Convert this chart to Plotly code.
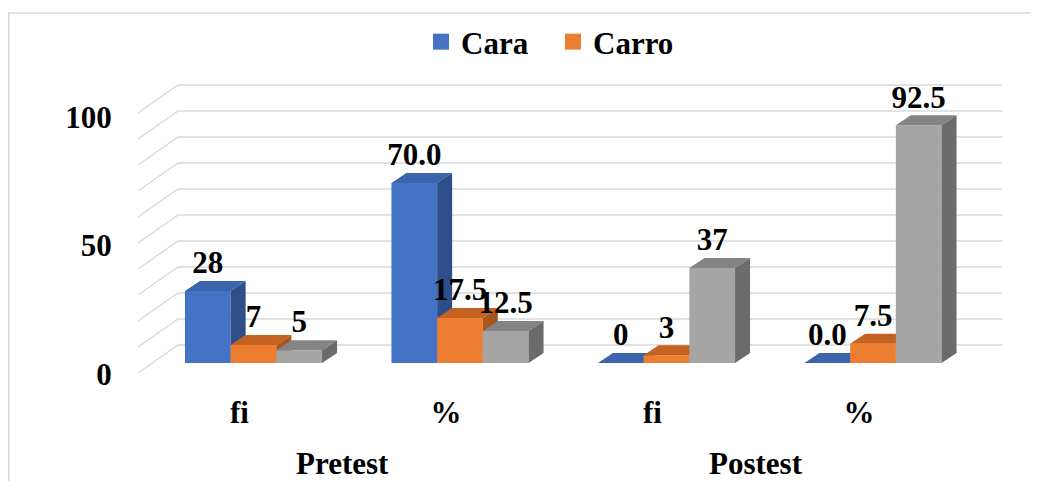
import plotly.graph_objects as go

# ---------------- data ----------------
categories = ["fi", "%", "fi", "%"]
groups = ["Pretest", "Postest"]
series_names = ["Cara", "Carro", "Serie 3"]
cara = [28, 70.0, 0, 0.0]
carro = [7, 17.5, 3, 7.5]
serie3 = [5, 12.5, 37, 92.5]
y_ticks = [0, 50, 100]
grid_vals = [0, 10, 20, 30, 40, 50, 60, 70, 80, 90, 100]

series_values = [cara, carro, serie3]
front_colors = ["#4472C4", "#ED7D31", "#A5A5A5"]
top_colors = ["#3B64AD", "#C3631F", "#848484"]
side_colors = ["#2D4E89", "#A9561A", "#6B6B6B"]
show_in_legend = [True, True, False]

# ---------------- layout geometry (page pixels) ----------------
OFF = 8                                   # default body margin of the page
W, H = 1039 - OFF, 481 - OFF              # figure size
L, R, T, B = 138, 1010, 60, 381           # plot area (page px)
CAT0, CATW = 253.5, 206.5                 # first group centre, group spacing
LAB0 = 239.5                              # first category label centre
BARW, DX, DY = 45.7, 15.0, 10.0           # bar width, depth offsets
S = 2.57                                  # px per unit (bars)
GS = 2.6                                  # px per unit (walls)
BASE = 363.0                              # bar baseline px
FRONT0, BACK0 = 373.0, 345.0              # wall zero lines (front / back)
TICK0 = 374.0                             # y tick label zero px
FONT = "Liberation Serif"
FS = 31


def fnt(size=FS):
    return dict(family=FONT, size=size, color="black", weight="bold")


def xd(px):
    return (px - CAT0) / CATW


bw = BARW / CATW
ddx = DX / CATW
ddy = DY / S
pw, ph = R - L, B - T

fig = go.Figure()

# ---- walls / gridlines ----
gx, gy = [], []
for g in grid_vals:
    yf = (BASE - (FRONT0 - GS * g)) / S     # front edge of side wall
    yb = (BASE - (BACK0 - GS * g)) / S      # back wall
    gx += [xd(138), xd(178), xd(1002), None]
    gy += [yf, yb, yb, None]
fig.add_trace(go.Scatter(x=gx, y=gy, mode="lines",
                         line=dict(color="#D9D9D9", width=1.4),
                         hoverinfo="skip", showlegend=False))

# ---- 3D bars (painter's order left -> right) ----
nser = len(series_values)
lab_x, lab_y, lab_t = [], [], []
for i, cat in enumerate(categories):
    for j in range(nser):
        v = series_values[j][i]
        xl = i + (j - nser / 2) * bw
        xr = xl + bw
        # front
        fig.add_trace(go.Scatter(x=[xl, xr, xr, xl, xl], y=[0, 0, v, v, 0],
                                 mode="lines", fill="toself",
                                 fillcolor=front_colors[j],
                                 line=dict(width=0, color=front_colors[j]),
                                 hoverinfo="skip", showlegend=False))
        # top
        fig.add_trace(go.Scatter(x=[xl, xr, xr + ddx, xl + ddx, xl],
                                 y=[v, v, v + ddy, v + ddy, v],
                                 mode="lines", fill="toself",
                                 fillcolor=top_colors[j],
                                 line=dict(width=0, color=top_colors[j]),
                                 hoverinfo="skip", showlegend=False))
        # side
        fig.add_trace(go.Scatter(x=[xr, xr + ddx, xr + ddx, xr, xr],
                                 y=[0, ddy, v + ddy, v, 0],
                                 mode="lines", fill="toself",
                                 fillcolor=side_colors[j],
                                 line=dict(width=0, color=side_colors[j]),
                                 hoverinfo="skip", showlegend=False))
        lab_x.append((xl + xr) / 2)
        lab_y.append(v + ddy)
        lab_t.append(f"{v:.1f}" if cat == "%" else f"{v:.0f}")

# ---- data labels ----
fig.add_trace(go.Scatter(x=lab_x, y=lab_y, mode="text", text=lab_t,
                         textposition="top center", textfont=fnt(),
                         hoverinfo="skip", showlegend=False))

# ---- legend entries ----
for j in range(nser):
    if show_in_legend[j]:
        fig.add_trace(go.Scatter(x=[None], y=[None], mode="markers",
                                 name=series_names[j],
                                 marker=dict(symbol="square", size=17,
                                             color=front_colors[j]),
                                 showlegend=True))

fig.update_layout(
    width=W, height=H, autosize=False,
    margin=dict(l=L - OFF, r=W - (R - OFF), t=T - OFF, b=H - (B - OFF), pad=0,
                autoexpand=False),
    paper_bgcolor="white", plot_bgcolor="white",
    showlegend=True,
    legend=dict(orientation="h", x=(553 - L) / pw, xanchor="center",
                y=(B - 42) / ph, yanchor="middle", font=fnt(),
                entrywidth=87, entrywidthmode="pixels",
                bgcolor="rgba(0,0,0,0)", itemclick=False),
    xaxis=dict(range=[xd(L), xd(R)], visible=False, fixedrange=True,
               automargin=False),
    yaxis=dict(range=[(BASE - B) / S, (BASE - T) / S], visible=False,
               fixedrange=True, automargin=False),
    xaxis2=dict(overlaying="x", anchor="y", side="bottom",
                range=[(L - LAB0) / CATW, (R - LAB0) / CATW],
                tickmode="array", tickvals=list(range(len(categories))),
                ticktext=categories, showgrid=False, zeroline=False,
                showline=False, ticks="outside", ticklen=4,
                tickcolor="rgba(0,0,0,0)", tickfont=fnt(), fixedrange=True,
                automargin=False),
    yaxis2=dict(overlaying="y", anchor="x", side="left",
                range=[(TICK0 - B) / S, (TICK0 - T) / S],
                tickmode="array", tickvals=y_ticks,
                showgrid=False, zeroline=False, showline=False,
                ticks="outside", ticklen=19, tickcolor="rgba(0,0,0,0)",
                tickfont=fnt(), fixedrange=True, automargin=False),
)

# dummy trace so the overlaid axes are drawn
fig.add_trace(go.Scatter(x=[None], y=[None], xaxis="x2", yaxis="y2",
                         showlegend=False, hoverinfo="skip"))

# group labels
for k, gname in enumerate(groups):
    fig.add_annotation(x=2 * k + 0.5, xref="x2", y=(B - 463) / ph,
                       yref="paper", text=gname, showarrow=False,
                       xanchor="center", yanchor="middle", font=fnt())

# chart border (light gray frame, open to right/bottom edges)
fig.add_shape(type="rect", xref="paper", yref="paper",
              x0=(8.8 - L) / pw, x1=(1100 - L) / pw,
              y0=(B - 13) / ph, y1=(B - 520) / ph,
              line=dict(color="#D9D9D9", width=1.5), fillcolor="rgba(0,0,0,0)",
              layer="below")

fig.write_html("out.html")
